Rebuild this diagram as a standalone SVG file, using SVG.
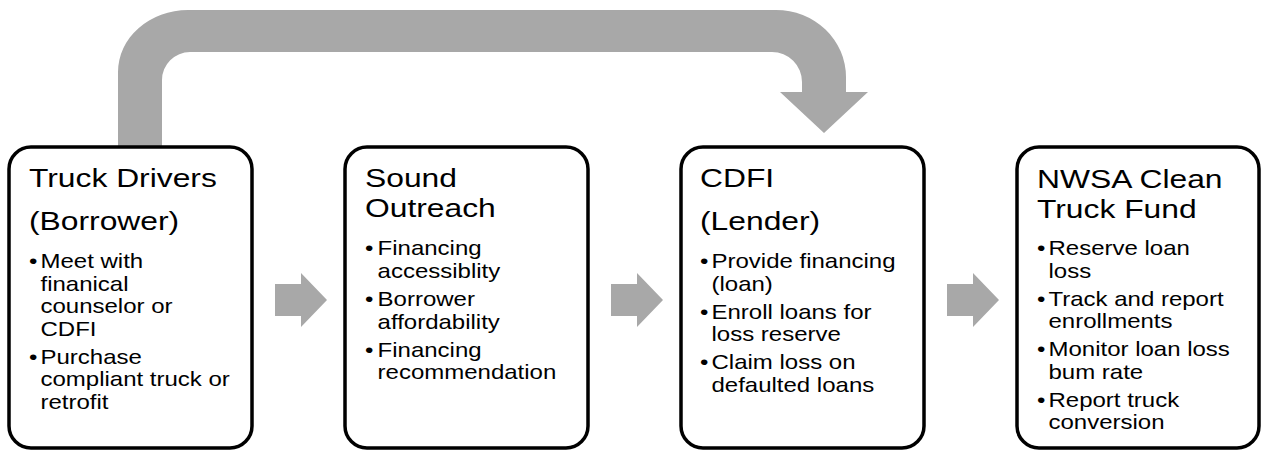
<svg xmlns="http://www.w3.org/2000/svg" width="1262" height="450" viewBox="0 0 1262 450">
<style>
.box{fill:#fff;stroke:#000;stroke-width:3.5}
.arr{fill:#a8a8a8;stroke:none}
.h{font-family:"Liberation Sans",Arial,sans-serif;font-size:26.5px;fill:#000}
.b{font-family:"Liberation Sans",Arial,sans-serif;font-size:20px;fill:#000}
</style>
<rect width="1262" height="450" fill="#fff"/>
<g id="connectors">
<path class="arr" d="M118,148 L118,72 A70,62 0 0 1 188,10 L776,10 A70,67 0 0 1 846,77 L846,92 L868,92 L824,133 L780,92 L802,92 L802,82 A30,30 0 0 0 772,52 L190,52 A28,28 0 0 0 162,80 L162,148 Z"/>
<path class="arr" d="M275,284 L301,284 L301,273 L327,300 L301,327 L301,316 L275,316 Z"/>
<path class="arr" d="M611,284 L637,284 L637,273 L663,300 L637,327 L637,316 L611,316 Z"/>
<path class="arr" d="M947,284 L973,284 L973,273 L999,300 L973,327 L973,316 L947,316 Z"/>
</g>
<g id="node-truck-drivers">
<rect class="box" x="9" y="147" width="243" height="301" rx="22"/>
<g transform="translate(29,0) scale(1.2,1)">
<text class="h" x="0" y="187">Truck Drivers</text>
<text class="h" x="0" y="230">(Borrower)</text>
<text class="b" x="0" y="268">•</text>
<text class="b" x="9.6" y="268">Meet with</text>
<text class="b" x="9.6" y="290.6">finanical</text>
<text class="b" x="9.6" y="313.2">counselor or</text>
<text class="b" x="9.6" y="335.8">CDFI</text>
<text class="b" x="0" y="363.8">•</text>
<text class="b" x="9.6" y="363.8">Purchase</text>
<text class="b" x="9.6" y="386.4">compliant truck or</text>
<text class="b" x="9.6" y="409">retrofit</text>
</g>
</g>
<g id="node-sound-outreach">
<rect class="box" x="345" y="147" width="243" height="301" rx="22"/>
<g transform="translate(365,0) scale(1.2,1)">
<text class="h" x="0" y="187">Sound</text>
<text class="h" x="0" y="217.5">Outreach</text>
<text class="b" x="0" y="255.5">•</text>
<text class="b" x="10.5" y="255.5">Financing</text>
<text class="b" x="10.5" y="278.1">accessiblity</text>
<text class="b" x="0" y="306.1">•</text>
<text class="b" x="10.5" y="306.1">Borrower</text>
<text class="b" x="10.5" y="328.7">affordability</text>
<text class="b" x="0" y="356.7">•</text>
<text class="b" x="10.5" y="356.7">Financing</text>
<text class="b" x="10.5" y="379.3">recommendation</text>
</g>
</g>
<g id="node-cdfi">
<rect class="box" x="681" y="147" width="243" height="301" rx="22"/>
<g transform="translate(700,0) scale(1.2,1)">
<text class="h" x="0" y="187">CDFI</text>
<text class="h" x="0" y="230">(Lender)</text>
<text class="b" x="0" y="268">•</text>
<text class="b" x="9.6" y="268">Provide financing</text>
<text class="b" x="9.6" y="290.6">(loan)</text>
<text class="b" x="0" y="318.6">•</text>
<text class="b" x="9.6" y="318.6">Enroll loans for</text>
<text class="b" x="9.6" y="341.2">loss reserve</text>
<text class="b" x="0" y="369.2">•</text>
<text class="b" x="9.6" y="369.2">Claim loss on</text>
<text class="b" x="9.6" y="391.8">defaulted loans</text>
</g>
</g>
<g id="node-nwsa">
<rect class="box" x="1017" y="147" width="242" height="301" rx="22"/>
<g transform="translate(1037,0) scale(1.2,1)">
<text class="h" x="0" y="188">NWSA Clean</text>
<text class="h" x="0" y="218">Truck Fund</text>
<text class="b" x="0" y="255">•</text>
<text class="b" x="9.6" y="255">Reserve loan</text>
<text class="b" x="9.6" y="277.6">loss</text>
<text class="b" x="0" y="305.6">•</text>
<text class="b" x="9.6" y="305.6">Track and report</text>
<text class="b" x="9.6" y="328.2">enrollments</text>
<text class="b" x="0" y="356.2">•</text>
<text class="b" x="9.6" y="356.2">Monitor loan loss</text>
<text class="b" x="9.6" y="378.8">bum rate</text>
<text class="b" x="0" y="406.8">•</text>
<text class="b" x="9.6" y="406.8">Report truck</text>
<text class="b" x="9.6" y="429.4">conversion</text>
</g>
</g>
</svg>
